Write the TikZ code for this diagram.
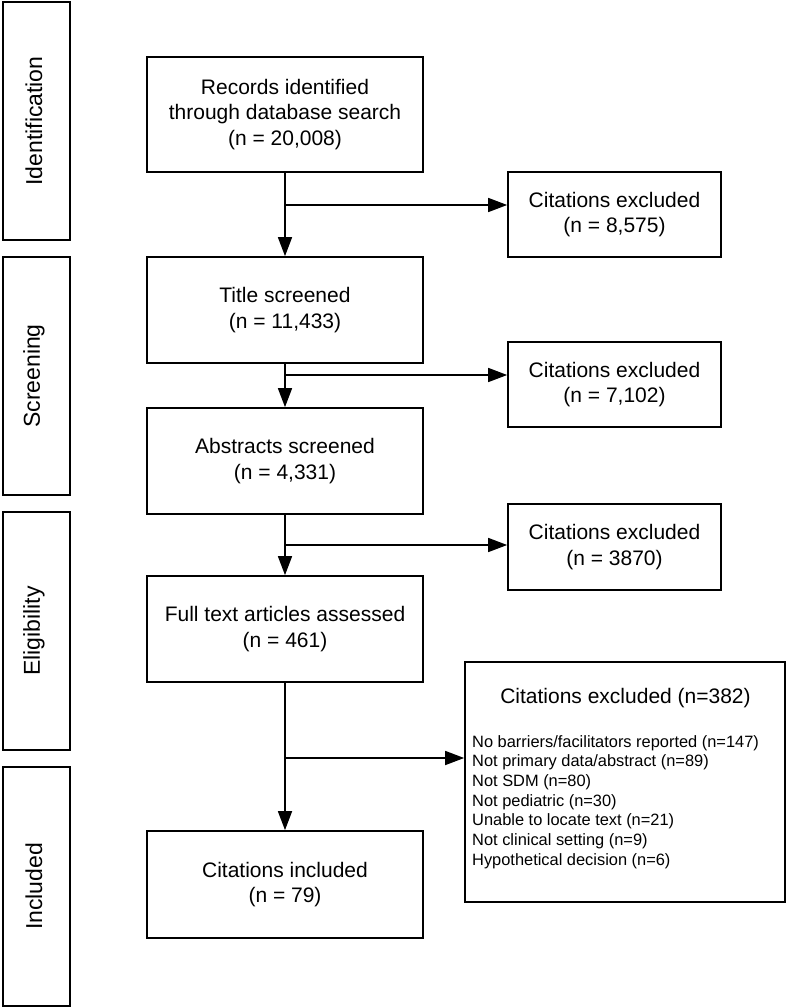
\documentclass[tikz,border=0pt]{standalone}
\usepackage{fontspec}
\setmainfont{Liberation Sans}
\usetikzlibrary{arrows.meta}
\begin{document}
\begin{tikzpicture}[x=1pt,y=-1pt,
  box/.style={draw, line width=1.7pt, rectangle, inner sep=0pt, align=center,
    font=\fontsize{21}{25.7}\selectfont},
  mainbox/.style={box, minimum width=276pt},
  exbox/.style={box, minimum width=213pt, minimum height=85pt},
  sidebox/.style={draw, line width=1.7pt, rectangle, inner sep=0pt, minimum width=67pt},
  sidelabel/.style={rotate=90, font=\fontsize{23}{27}\selectfont, inner sep=0pt},
  arr/.style={line width=1.6pt, -{Triangle[length=19pt,width=14pt]}}]
\useasboundingbox (0,0) rectangle (787,1008);
% side boxes
\node[sidebox, minimum height=238pt] (sid) at (36.5,121) {};
\node[sidelabel] (lid) at (34,121) {Identification};
\node[sidebox, minimum height=238pt] (ssc) at (36.5,376) {};
\node[sidelabel] (lsc) at (34,376) {Screening};
\node[sidebox, minimum height=238pt] (sel) at (36.5,631) {};
\node[sidelabel] (lel) at (34,631) {Eligibility};
\node[sidebox, minimum height=239pt] (sin) at (36.5,886.5) {};
\node[sidelabel] (lin) at (34,886.5) {Included};
% main boxes
\node[mainbox, minimum height=115pt] (rec) at (285,114.5) {Records identified\\through database search\\(n = 20,008)};
\node[mainbox, minimum height=106pt] (tit) at (285,310) {Title screened\\(n = 11,433)};
\node[mainbox, minimum height=106pt] (abs) at (285,461) {Abstracts screened\\(n = 4,331)};
\node[mainbox, minimum height=106pt] (ful) at (285,629) {Full text articles assessed\\(n = 461)};
\node[mainbox, minimum height=107pt] (inc) at (285,884.5) {Citations included\\(n = 79)};
% excluded boxes
\node[exbox] (ex1) at (614.5,214.5) {Citations excluded\\(n = 8,575)};
\node[exbox] (ex2) at (614.5,384.5) {Citations excluded\\(n = 7,102)};
\node[exbox, minimum height=86pt] (ex3) at (614.5,547) {Citations excluded\\(n = 3870)};
\node[draw, line width=1.7pt, rectangle, minimum width=320pt, minimum height=240pt, inner sep=0pt] (ex4) at (625,782) {};
\node[font=\fontsize{21}{25}\selectfont, inner sep=0pt] (ex4t) at (625.5,698) {Citations excluded (n=382)};
\node[font=\fontsize{16.4}{19.7}\selectfont, align=left, anchor=north west, inner sep=0pt] (ex4l) at (472,735) {%
No barriers/facilitators reported (n=147)\\
Not primary data/abstract (n=89)\\
Not SDM (n=80)\\
Not pediatric (n=30)\\
Unable to locate text (n=21)\\
Not clinical setting (n=9)\\
Hypothetical decision (n=6)};
% branch points
\coordinate (b1) at (285,205);
\coordinate (b2) at (285,375);
\coordinate (b3) at (285,545);
\coordinate (b4) at (285,758);
% connectors
\draw[arr] (rec.south) -- (tit.north);
\draw[arr] (b1) -- (b1 -| ex1.west);
\draw[arr] (tit.south) -- (abs.north);
\draw[arr] (b2) -- (b2 -| ex2.west);
\draw[arr] (abs.south) -- (ful.north);
\draw[arr] (b3) -- (b3 -| ex3.west);
\draw[arr] (ful.south) -- (inc.north);
\draw[arr] (b4) -- (b4 -| ex4.west);
\end{tikzpicture}
\end{document}
